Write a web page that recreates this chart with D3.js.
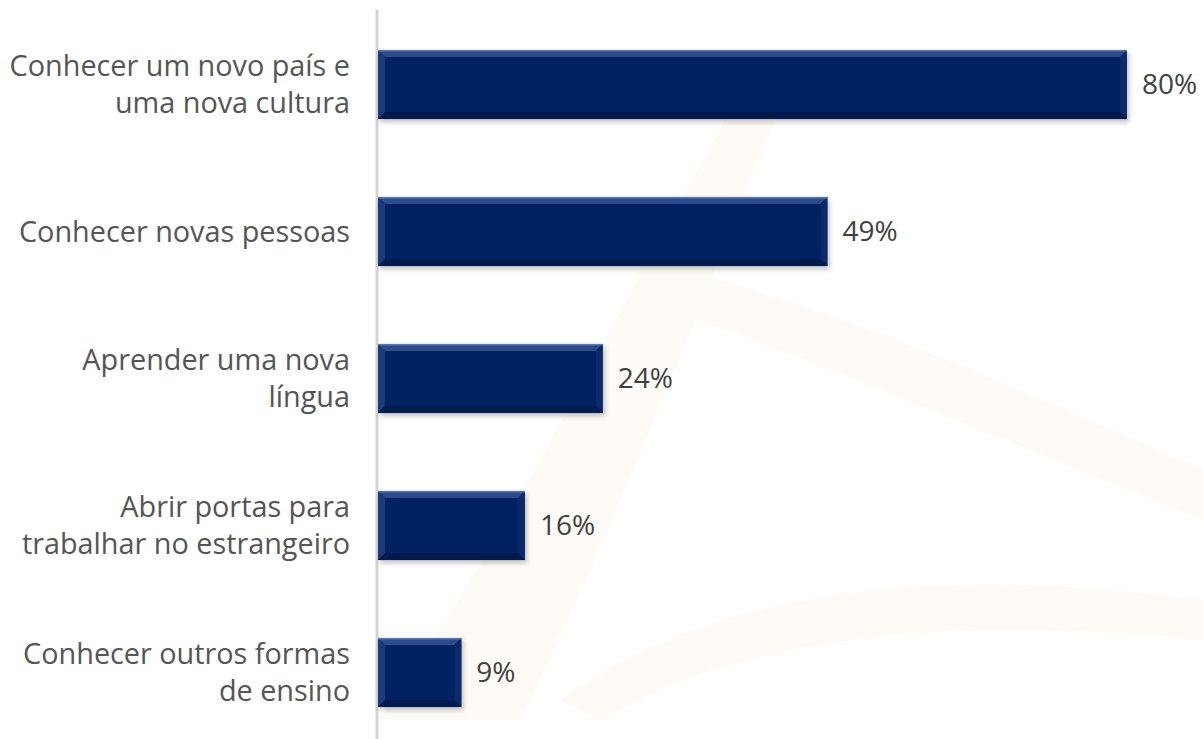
<!DOCTYPE html>
<html><head><meta charset="utf-8">
<script src="https://cdn.jsdelivr.net/npm/d3@7"></script>
<style>
html,body{margin:0;padding:0;background:#fff;}
svg{display:block;}
</style></head>
<body>
<script>
const categories = [
  ["Conhecer um novo país e", "uma nova cultura"],
  ["Conhecer novas pessoas"],
  ["Aprender uma nova", "língua"],
  ["Abrir portas para", "trabalhar no estrangeiro"],
  ["Conhecer outros formas", "de ensino"]
];
// bar lengths (percent)
const values = [80, 48, 24, 15.7, 8.9];
const valueLabels = ["80%", "49%", "24%", "16%", "9%"];

const W = 1203, H = 739;
const svg = d3.select("body").append("svg").attr("width", W).attr("height", H);
const defs = svg.append("defs");
const f = defs.append("filter").attr("id","sh").attr("x","-5%").attr("y","-20%").attr("width","115%").attr("height","150%");
f.append("feDropShadow").attr("dx",2).attr("dy",3).attr("stdDeviation",2.5).attr("flood-color","#000").attr("flood-opacity",0.25);

// faint watermark swooshes
const wm = svg.append("g").attr("fill","#fefbf6");
wm.append("path").attr("d","M380,720 C520,520 620,300 760,60 L800,60 C700,300 620,520 520,720 Z");
wm.append("path").attr("d","M640,260 C820,300 1000,380 1203,470 L1203,520 C1000,440 820,360 640,300 Z");
wm.append("path").attr("d","M560,700 C700,600 900,560 1203,600 L1203,640 C900,610 720,650 600,720 Z");

const ids = d3.range(values.length);
const y = d3.scaleBand().domain(ids).range([11, 746]).paddingInner(0.53).paddingOuter(0.265);
const x = d3.scaleLinear().domain([0, 80]).range([378, 1127]);

// axis line
svg.append("line").attr("x1",377).attr("x2",377).attr("y1",10).attr("y2",H)
  .attr("stroke","#d4d4d4").attr("stroke-width",3);

const b = 7;
const g = svg.selectAll("g.bar").data(ids).enter().append("g").attr("class","bar");
g.each(function(i){
  const gg = d3.select(this);
  const x0 = x(0), x1 = x(values[i]), y0 = y(i), y1 = y(i)+y.bandwidth();
  gg.append("rect").attr("x",x0).attr("y",y0).attr("width",x1-x0).attr("height",y1-y0)
    .attr("fill","#052463").attr("filter","url(#sh)");
  gg.append("path").attr("d",`M${x0},${y0}L${x1},${y0}L${x1-b},${y0+b}L${x0+b},${y0+b}Z`).attr("fill","#2d4c8c");
  gg.append("path").attr("d",`M${x0},${y0}L${x0+b},${y0+b}L${x0+b},${y1-b}L${x0},${y1}Z`).attr("fill","#1a3a7a");
  gg.append("path").attr("d",`M${x1},${y0}L${x1},${y1}L${x1-b},${y1-b}L${x1-b},${y0+b}Z`).attr("fill","#0c2a6a");
  gg.append("path").attr("d",`M${x0},${y1}L${x0+b},${y1-b}L${x1-b},${y1-b}L${x1},${y1}Z`).attr("fill","#031a4c");
  gg.append("rect").attr("x",x0).attr("y",y0).attr("width",x1-x0).attr("height",1.5).attr("fill","#5a77b0");
});

// value labels
svg.selectAll("text.val").data(ids).enter().append("text").attr("class","val")
  .attr("x", i => x(values[i]) + 15)
  .attr("y", i => y(i) + y.bandwidth()/2)
  .attr("dy","0.35em")
  .attr("font-family","'Open Sans', sans-serif").attr("font-size",28)
  .attr("fill","#404040")
  .text(i => valueLabels[i]);

// category labels
const lh = 37;
svg.selectAll("text.cat").data(ids).enter().append("text").attr("class","cat")
  .attr("text-anchor","end")
  .attr("font-family","'Open Sans', sans-serif").attr("font-size",28.8)
  .attr("fill","#555555")
  .each(function(i){
    const lines = categories[i];
    const cy = y(i) + y.bandwidth()/2;
    const start = cy - (lines.length-1)*lh/2;
    d3.select(this).selectAll("tspan").data(lines).enter().append("tspan")
      .attr("x",350).attr("y",(d,k)=>start + k*lh).attr("dy","0.35em").text(d=>d);
  });
</script>
</body></html>
